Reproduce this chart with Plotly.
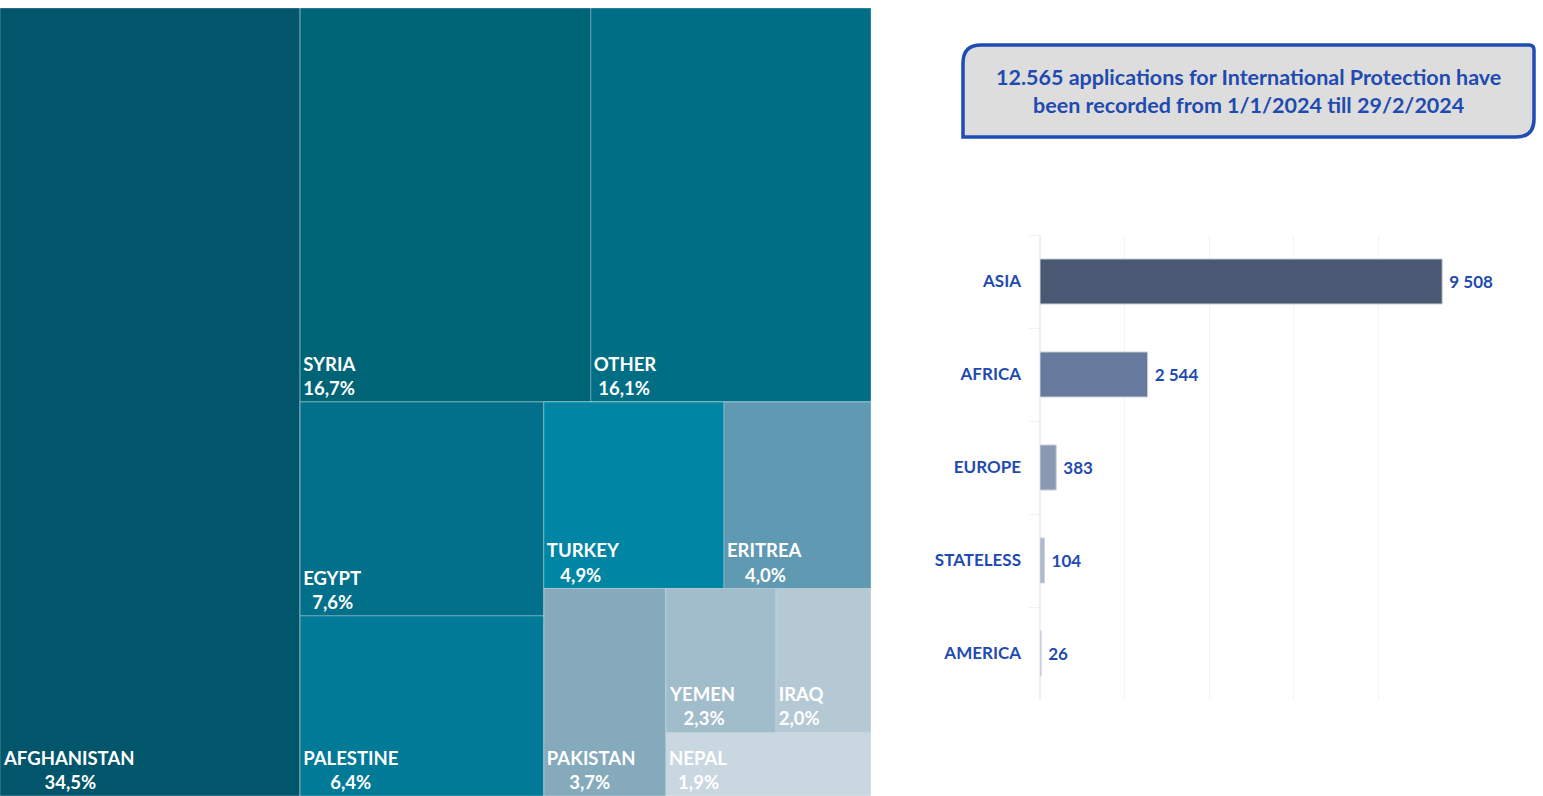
import plotly.graph_objects as go

# ---------------- data ----------------
countries = ["AFGHANISTAN", "SYRIA", "OTHER", "EGYPT", "PALESTINE", "TURKEY",
             "ERITREA", "PAKISTAN", "YEMEN", "IRAQ", "NEPAL"]
shares = [34.5, 16.7, 16.1, 7.6, 6.4, 4.9, 4.0, 3.7, 2.3, 2.0, 1.9]
country_colors = ["#02566B", "#006477", "#006F85", "#02708A", "#017A98", "#0085A5",
                  "#5F99B2", "#84AABC", "#A1BCCB", "#B5C9D4", "#C9D7E0"]

# grouping of the tiles (arrangement of the reference treemap)
tile_tree = ["AFGHANISTAN",
             [["SYRIA", "OTHER"],
              [["EGYPT", "PALESTINE"],
               [["TURKEY", "ERITREA"],
                ["PAKISTAN", [["YEMEN", "IRAQ"], "NEPAL"]]]]]]

regions = ["ASIA", "AFRICA", "EUROPE", "STATELESS", "AMERICA"]
region_counts = [9508, 2544, 383, 104, 26]
region_colors = ["#4A5873", "#67799D", "#8B99B5", "#AFB9CD", "#CDD4E1"]

headline = ("12.565 applications for International Protection have<br>"
            "been recorded from 1/1/2024 till 29/2/2024")

# ---------------- helpers ----------------
W, H = 1543, 796
FONT = "Lato"
BLUE = "#1F4BB0"
TM_SIZE = 18.5

_cw = {"A": .70, "B": .66, "C": .66, "D": .75, "E": .57, "F": .55, "G": .72, "H": .76,
       "I": .30, "J": .40, "K": .68, "L": .51, "M": .93, "N": .76, "O": .80, "P": .62,
       "Q": .80, "R": .65, "S": .55, "T": .58, "U": .73, "V": .70, "W": 1.02, "X": .68,
       "Y": .64, "Z": .60, ",": .22, "%": .85}


def text_w(s):
    return sum(_cw.get(c, .58) for c in s)


def cell_text(name, v):
    pct = f"{v:.1f}".replace(".", ",") + "%"
    pad = max(0, round((text_w(name) - text_w(pct)) / 2 / 0.245))
    return f"{name}<br>{chr(160) * pad}{pct}"


share_of = dict(zip(countries, shares))
color_of = dict(zip(countries, country_colors))

ids, parents, labels, values, texts, colors = [], [], [], [], [], []
counter = [0]


def add_group(children, parent):
    gid = f"grp{counter[0]}"
    counter[0] += 1
    ids.append(gid); parents.append(parent); labels.append(" ")
    values.append(0); texts.append(""); colors.append(country_colors[0])
    for ch in children:
        if isinstance(ch, list):
            add_group(ch, gid)
        else:
            ids.append(ch); parents.append(gid); labels.append(ch)
            values.append(share_of[ch]); texts.append(cell_text(ch, share_of[ch]))
            colors.append(color_of[ch])


add_group(tile_tree, "")

fig = go.Figure()

fig.add_trace(go.Treemap(
    ids=ids, parents=parents, labels=labels, values=values, text=texts,
    branchvalues="remainder", sort=False,
    texttemplate="%{text}", textposition="bottom left",
    textfont=dict(family=FONT, size=TM_SIZE, color="white", weight="bold"),
    insidetextfont=dict(family=FONT, size=TM_SIZE, color="white", weight="bold"),
    marker=dict(colors=colors, depthfade=False,
                line=dict(color="rgba(255,255,255,0.3)", width=1),
                pad=dict(t=0, l=0, r=0, b=0)),
    tiling=dict(packing="slice-dice", pad=0),
    pathbar=dict(visible=False),
    hoverinfo="label+text",
    domain=dict(x=[0, 871 / W], y=[0, 1 - 8 / H]),
))

fig.add_trace(go.Bar(
    y=regions, x=region_counts, orientation="h",
    marker=dict(color=region_colors, line=dict(color="#C9CFDB", width=1)),
    texttemplate="\u00a0%{x:,}", textposition="outside", cliponaxis=False,
    textfont=dict(family=FONT, size=17, color=BLUE, weight="bold"),
    xaxis="x", yaxis="y", showlegend=False,
))


def px(x, y):
    return f"{x / W:.5f},{1 - y / H:.5f}"


x0, x1, y0, y1 = 963, 1534, 45, 137
r, rs = 18, 5
box = (f"M {px(x0, y0 + r)} Q {px(x0, y0)} {px(x0 + r, y0)} "
       f"L {px(x1 - rs, y0)} Q {px(x1, y0)} {px(x1, y0 + rs)} "
       f"L {px(x1, y1 - r)} Q {px(x1, y1)} {px(x1 - r, y1)} "
       f"L {px(x0, y1)} Z")

fig.update_layout(
    width=W, height=H, margin=dict(l=0, r=0, t=0, b=0),
    paper_bgcolor="white", plot_bgcolor="white",
    separators=", ",
    bargap=0.516,
    showlegend=False,
    xaxis=dict(domain=[1040 / W, 1463 / W], range=[0, 10000], dtick=2000,
               showgrid=True, gridcolor="#F3F3F3", gridwidth=1,
               zeroline=True, zerolinecolor="#EFEFEF", showticklabels=False,
               showline=False, fixedrange=True),
    yaxis=dict(domain=[1 - 700 / H, 1 - 235 / H], autorange="reversed",
               categoryorder="array", categoryarray=regions,
               tickfont=dict(family=FONT, size=17, color=BLUE, weight="bold"),
               ticks="outside", tickson="boundaries", ticklen=10, tickcolor="#F2F2F2",
               ticklabelstandoff=18, showline=False, showgrid=False, fixedrange=True),
    shapes=[dict(type="path", xref="paper", yref="paper", path=box,
                 fillcolor="#DDDDDD", line=dict(color="#1F4DB5", width=3.5), layer="below")],
    annotations=[dict(xref="paper", yref="paper", x=(x0 + x1) / 2 / W, y=1 - (y0 + y1) / 2 / H,
                      text=headline, showarrow=False, align="center",
                      xanchor="center", yanchor="middle",
                      font=dict(family=FONT, size=21.5, color=BLUE, weight="bold"))],
)

fig.write_html("out.html", config={"displayModeBar": False},
               post_script="document.body.style.margin='0';document.body.style.overflow='hidden';")
